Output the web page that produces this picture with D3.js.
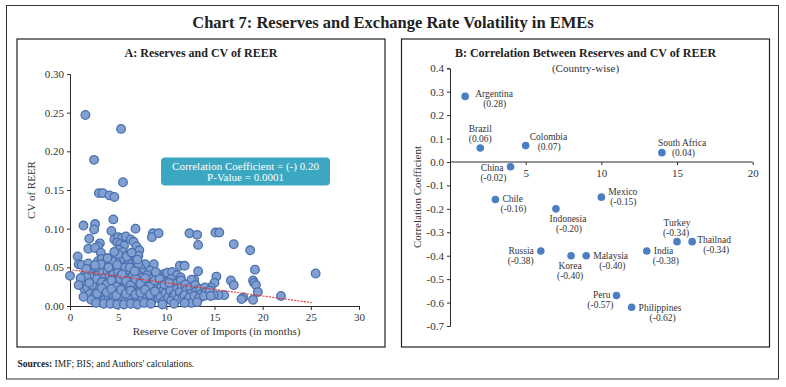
<!DOCTYPE html>
<html><head><meta charset="utf-8">
<script src="https://cdn.jsdelivr.net/npm/d3@7/dist/d3.min.js"></script>
<style>
html,body{margin:0;padding:0;background:#fff;}
svg{display:block;font-family:"Liberation Serif","DejaVu Serif",serif;}
</style></head><body>
<svg id="c" width="786" height="387"></svg>
<script>
// ---------- Panel A data ----------
const reserveCover = [1.6,5.3,2.5,5.5,3.0,3.4,4.1,4.6,4.5,1.4,2.6,2.5,4.3,6.8,2.0,4.6,5.0,5.4,5.8,4.9,5.2,6.3,6.6,3.1,2.9,1.9,2.6,3.2,5.6,6.9,7.2,5.1,5.5,6.0,7.1,0.8,0.9,8.6,8.5,9.2,12.4,13.2,13.3,15.1,15.5,17.0,18.7,19.2,19.0,19.1,19.3,19.5,18.0,17.8,19.0,21.9,25.5,0.0,13.3,11.4,11.9,9.7,8.7,7.8,16.7,17.0,16.0,15.4,14.9,15.2,15.0,14.2,14.6,12.9,10.8,11.6,12.3,
1.2,1.9,2.4,2.9,3.3,3.8,4.2,4.7,5.1,5.6,6.1,6.4,6.8,7.3,2.1,3.0,3.6,4.4,5.3,5.9,6.6,7.6,8.3,9.1,10.1,10.6,11.1,11.5,12.6,
1.3,1.5,1.6,1.5,1.8,2.0,2.2,2.1,2.4,2.6,2.7,2.5,2.9,3.1,3.0,3.2,3.0,3.4,3.6,3.5,3.7,3.4,3.6,3.9,4.1,4.0,3.9,4.2,4.0,4.1,4.5,4.6,4.4,4.7,4.5,4.6,5.0,5.1,4.9,5.2,5.0,5.1,5.3,5.5,5.4,5.7,5.6,5.4,5.7,6.0,6.1,5.9,6.2,6.0,6.1,6.5,6.4,6.7,6.6,6.4,6.6,7.0,7.1,6.9,7.2,7.0,7.1,7.5,7.6,7.4,7.7,7.5,8.0,8.1,7.9,8.2,8.0,8.1,8.5,8.6,8.4,8.7,8.5,9.0,9.1,8.9,9.2,9.5,9.6,9.4,9.7,10.0,10.1,9.9,10.2,10.5,10.6,10.4,10.7,10.5,11.0,11.1,10.9,11.2,11.5,11.6,11.4,11.7,12.0,12.1,11.9,12.2,12.5,12.6,12.4,12.6,13.0,13.1,12.9,13.5,13.6,13.4,14.0,14.1,13.9,14.5,14.6,
2.3,2.8,3.3,3.8,4.3,4.8,5.2,5.8,6.3,6.8,7.3,7.8,8.3,8.8,9.3,2.8,3.3,3.8,4.3,4.8,5.3,5.8,6.3,6.8,7.3,7.8,8.3,8.8,9.8,10.3,1.7,1.1,0.9,4.4,5.7,6.2,6.9,7.1,4.9,3.2,2.6,1.7,
5.0,5.9,6.4,4.6,7.0,3.9,2.2,1.4,2.7,3.5,4.2,4.9,5.6,6.3,7.0,7.7,8.4,9.6,10.8,11.9,13.2,6.7,5.4,4.0,8.9,2.0];
const cvReer = [0.247,0.229,0.189,0.160,0.146,0.146,0.143,0.141,0.112,0.104,0.106,0.099,0.097,0.100,0.087,0.086,0.089,0.088,0.090,0.082,0.080,0.086,0.083,0.081,0.077,0.074,0.075,0.069,0.078,0.077,0.072,0.073,0.070,0.066,0.065,0.064,0.054,0.094,0.089,0.094,0.094,0.092,0.079,0.095,0.095,0.080,0.072,0.047,0.033,0.030,0.027,0.018,0.011,0.009,0.008,0.013,0.042,0.039,0.045,0.052,0.052,0.041,0.054,0.054,0.033,0.027,0.014,0.014,0.014,0.038,0.030,0.022,0.024,0.034,0.036,0.030,0.024,
0.053,0.055,0.049,0.058,0.061,0.056,0.051,0.063,0.057,0.061,0.059,0.054,0.052,0.049,0.046,0.047,0.049,0.044,0.048,0.046,0.047,0.043,0.046,0.040,0.043,0.044,0.040,0.037,0.034,
0.028,0.040,0.031,0.022,0.024,0.042,0.033,0.016,0.037,0.029,0.021,0.012,0.040,0.034,0.026,0.018,0.010,0.043,0.036,0.029,0.022,0.014,0.008,0.045,0.038,0.031,0.024,0.017,0.010,0.005,0.041,0.034,0.027,0.020,0.013,0.007,0.044,0.037,0.030,0.023,0.016,0.009,0.004,0.040,0.033,0.026,0.019,0.012,0.006,0.043,0.036,0.029,0.022,0.015,0.008,0.039,0.032,0.025,0.018,0.011,0.005,0.041,0.034,0.027,0.020,0.013,0.007,0.037,0.030,0.023,0.016,0.009,0.040,0.033,0.026,0.019,0.012,0.006,0.035,0.028,0.021,0.014,0.008,0.030,0.023,0.016,0.010,0.026,0.019,0.012,0.006,0.031,0.024,0.017,0.011,0.035,0.027,0.020,0.013,0.007,0.029,0.022,0.015,0.009,0.033,0.025,0.018,0.012,0.028,0.021,0.014,0.008,0.024,0.016,0.011,0.004,0.027,0.019,0.013,0.022,0.015,0.010,0.024,0.018,0.013,0.020,0.013,
0.027,0.035,0.031,0.028,0.033,0.025,0.035,0.033,0.027,0.035,0.029,0.036,0.025,0.033,0.035,0.016,0.023,0.018,0.022,0.014,0.021,0.016,0.020,0.015,0.017,0.021,0.015,0.019,0.028,0.030,0.037,0.036,0.027,0.058,0.050,0.050,0.058,0.055,0.053,0.054,0.053,0.048,
0.067,0.064,0.069,0.070,0.060,0.062,0.008,0.012,0.004,0.003,0.003,0.002,0.002,0.003,0.002,0.004,0.003,0.002,0.003,0.004,0.005,0.045,0.041,0.050,0.044,0.030];
const trendX = [0.25, 25.1];
const trendY = [0.0466, 0.0043];
const xTicksA = [0,5,10,15,20,25,30];
const yTicksA = [0,0.05,0.10,0.15,0.20,0.25,0.30];

// ---------- Panel B data ----------
const countries = ["Argentina","Brazil","Colombia","South Africa","China","Chile","Mexico","Indonesia","Russia","Korea","Malaysia","India","Turkey","Thailnad","Peru","Philippines"];
const countryX = [1,2,5,14,4,3,10,7,6,8,9,13,15,16,11,12];
const correlation = [0.28,0.06,0.07,0.04,-0.02,-0.16,-0.15,-0.20,-0.38,-0.40,-0.40,-0.38,-0.34,-0.34,-0.57,-0.62];
const xTicksB = [5,10,15,20];
const yTicksB = [0.4,0.3,0.2,0.1,0,-0.1,-0.2,-0.3,-0.4,-0.5,-0.6,-0.7];

// label layout (offsets of name/value relative to point) — styling only
const labelLayout = {
 "Argentina":   {n:[10,-3,"start"], v:[18,7,"start"]},
 "Brazil":      {n:[0,-19,"middle"], v:[0,-9,"middle"]},
 "Colombia":    {n:[4,-9,"start"], v:[12,1,"start"]},
 "South Africa":{n:[-4,-10,"start"], v:[10,0,"start"]},
 "China":       {n:[-7,1,"end"], v:[-4,11,"end"]},
 "Chile":       {n:[7,-1,"start"], v:[5,9,"start"]},
 "Mexico":      {n:[7,-5,"start"], v:[9,5,"start"]},
 "Indonesia":   {n:[12,10,"middle"], v:[13,20,"middle"]},
 "Russia":      {n:[-7,0,"end"], v:[-7,10,"end"]},
 "Korea":       {n:[-1,10,"middle"], v:[-1,20,"middle"]},
 "Malaysia":    {n:[7,0,"start"], v:[13,10,"start"]},
 "India":       {n:[7,0,"start"], v:[6,10,"start"]},
 "Turkey":      {n:[0,-19,"middle"], v:[-1,-9,"middle"]},
 "Thailnad":    {n:[5,-2,"start"], v:[11,8,"start"]},
 "Peru":        {n:[-6,-1,"end"], v:[-3,9,"end"]},
 "Philippines": {n:[7,0,"start"], v:[18,10,"start"]}
};

const svg = d3.select("#c");
const ink = "#2b2b2b";

// outer frame & title
svg.append("rect").attr("x",6.5).attr("y",5.5).attr("width",772).attr("height",373.5)
  .attr("fill","none").attr("stroke","#333").attr("stroke-width",1);
svg.append("text").attr("x",393).attr("y",28).attr("text-anchor","middle")
  .attr("font-size",16.5).attr("font-weight","bold").attr("fill","#222")
  .text("Chart 7: Reserves and Exchange Rate Volatility in EMEs");

// panel boxes
svg.append("rect").attr("x",17).attr("y",39).attr("width",368).attr("height",308)
  .attr("fill","none").attr("stroke","#222").attr("stroke-width",1.2);
svg.append("rect").attr("x",401.5).attr("y",39).attr("width",368).attr("height",308)
  .attr("fill","none").attr("stroke","#222").attr("stroke-width",1.2);

// footer
const f = svg.append("text").attr("x",17.5).attr("y",367).attr("font-size",9.5).attr("fill","#222");
f.append("tspan").attr("font-weight","bold").text("Sources:");
f.append("tspan").text(" IMF; BIS; and Authors' calculations.");

// ===== Panel A =====
const xA = d3.scaleLinear().domain([0,30]).range([70,359]);
const yA = d3.scaleLinear().domain([0,0.3]).range([306,74]);
const gA = svg.append("g");
gA.append("text").attr("x",201).attr("y",57).attr("text-anchor","middle")
  .attr("font-size",12).attr("font-weight","bold").attr("fill","#222").text("A: Reserves and CV of REER");

const axA_y = gA.append("g").attr("transform","translate(70,0)")
  .call(d3.axisLeft(yA).tickValues(yTicksA).tickFormat(d3.format(".2f")).tickSize(3).tickPadding(3));
const axA_x = gA.append("g").attr("transform","translate(0,306)")
  .call(d3.axisBottom(xA).tickValues(xTicksA).tickFormat(d3.format("d")).tickSize(4).tickPadding(3));
[axA_y,axA_x].forEach(a=>{
  a.selectAll("path,line").attr("stroke",ink);
  a.selectAll("text").attr("font-family","Liberation Serif").attr("font-size",11).attr("fill","#333");
});
gA.append("text").attr("transform","translate(35,190) rotate(-90)").attr("text-anchor","middle")
  .attr("font-size",11).attr("fill","#333").text("CV of REER");
gA.append("text").attr("x",216.5).attr("y",335).attr("text-anchor","middle")
  .attr("font-size",11).attr("fill","#333").text("Reserve Cover of Imports (in months)");

const ptsA = reserveCover.map((x,i)=>({x, y: cvReer[i]}));
gA.append("g").selectAll("circle").data(ptsA).join("circle")
  .attr("cx",d=>xA(d.x)).attr("cy",d=>yA(d.y)).attr("r",4.3)
  .attr("fill","#819fd1").attr("stroke","#4a70ae").attr("stroke-width",1.3);

gA.append("line").attr("x1",xA(trendX[0])).attr("y1",yA(trendY[0]))
  .attr("x2",xA(trendX[1])).attr("y2",yA(trendY[1]))
  .attr("stroke","#e8322e").attr("stroke-width",1.1).attr("stroke-dasharray","2,1.2");

// annotation
gA.append("rect").attr("x",161).attr("y",157.5).attr("width",169).attr("height",28).attr("rx",4)
  .attr("fill","#3ba7c0");
gA.append("text").attr("x",245.5).attr("y",169.5).attr("text-anchor","middle").attr("font-size",11)
  .attr("fill","#fff").text("Correlation Coefficient = (-) 0.20");
gA.append("text").attr("x",245.5).attr("y",181).attr("text-anchor","middle").attr("font-size",11)
  .attr("fill","#fff").text("P-Value = 0.0001");

// ===== Panel B =====
const xB = d3.scaleLinear().domain([0,20]).range([450,752.7]);
const yB = d3.scaleLinear().domain([-0.7,0.4]).range([326,68.3]);
const gB = svg.append("g");
gB.append("text").attr("x",585.5).attr("y",56.5).attr("text-anchor","middle")
  .attr("font-size",12).attr("font-weight","bold").attr("fill","#222")
  .text("B: Correlation Between Reserves and CV of REER");
gB.append("text").attr("x",585.5).attr("y",72).attr("text-anchor","middle")
  .attr("font-size",11).attr("fill","#333").text("(Country-wise)");

const axB_y = gB.append("g").attr("transform","translate(450,0)")
  .call(d3.axisLeft(yB).tickValues(yTicksB).tickFormat(d=>d3.format(".1f")(d).replace("−","-")).tickSize(3).tickPadding(3));
const axB_x = gB.append("g").attr("transform",`translate(0,${yB(0)})`)
  .call(d3.axisBottom(xB).tickValues(xTicksB).tickFormat(d3.format("d")).tickSize(3).tickPadding(4));
axB_x.select(".domain").attr("d",`M450,0H${xB(20)}`);
[axB_y,axB_x].forEach(a=>{
  a.selectAll("path,line").attr("stroke",ink);
  a.selectAll("text").attr("font-family","Liberation Serif").attr("font-size",11).attr("fill","#333");
});
gB.append("text").attr("transform","translate(421,197) rotate(-90)").attr("text-anchor","middle")
  .attr("font-size",11).attr("fill","#333").text("Correlation Coefficient");

const ptsB = countries.map((c,i)=>({c, x: countryX[i], y: correlation[i]}));
gB.append("g").selectAll("circle").data(ptsB).join("circle")
  .attr("cx",d=>xB(d.x)).attr("cy",d=>yB(d.y)).attr("r",3.8).attr("fill","#4a7fc2");
const lab = gB.append("g").attr("font-size",9.5).attr("fill","#333");
ptsB.forEach(d=>{
  const L = labelLayout[d.c], px = xB(d.x), py = yB(d.y);
  lab.append("text").attr("x",px+L.n[0]).attr("y",py+L.n[1]).attr("dy","0.35em")
    .attr("text-anchor",L.n[2]).text(d.c);
  lab.append("text").attr("x",px+L.v[0]).attr("y",py+L.v[1]).attr("dy","0.35em")
    .attr("text-anchor",L.v[2]).text("(" + d3.format(".2f")(d.y).replace("−","-") + ")");
});
</script></body></html>
